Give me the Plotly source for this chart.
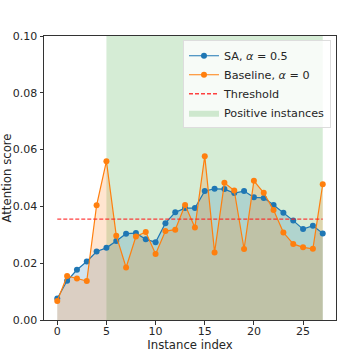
import plotly.graph_objects as go

# attention scores per instance
instance_idx = list(range(28))
sa_scores = [0.0076, 0.0138, 0.0177, 0.0206, 0.0241, 0.0254, 0.0278, 0.0304, 0.0306, 0.0284,
             0.0274, 0.0341, 0.0379, 0.0394, 0.0394, 0.0454, 0.0462, 0.0461, 0.0447, 0.0454,
             0.0432, 0.0430, 0.0405, 0.0378, 0.0350, 0.0320, 0.0332, 0.0305]
baseline_scores = [0.0067, 0.0155, 0.0146, 0.0137, 0.0404, 0.0559, 0.0297, 0.0185, 0.0294, 0.0310,
                   0.0232, 0.0313, 0.0318, 0.0405, 0.0326, 0.0577, 0.0238, 0.0483, 0.0456, 0.0250,
                   0.0490, 0.0448, 0.0387, 0.0308, 0.0268, 0.0256, 0.0251, 0.0478]
threshold = 0.0355
positive_start, positive_end = 5, 27
y_top = 0.10

BLUE = "#1f77b4"
ORANGE = "#ff7f0e"
FONT = "DejaVu Sans"

fig = go.Figure()

# positive-instance span (drawn first so the fills sit on top of it)
fig.add_trace(go.Scatter(
    x=[positive_start, positive_start, positive_end, positive_end],
    y=[0, y_top, y_top, 0],
    fill="toself", fillcolor="rgba(44,160,44,0.2)", mode="lines",
    line=dict(width=0), name="Positive instances", legendrank=4,
    hoverinfo="skip",
))

# area under each curve
fig.add_trace(go.Scatter(x=instance_idx, y=sa_scores, fill="tozeroy", mode="none",
                         fillcolor="rgba(31,119,180,0.2)", showlegend=False, hoverinfo="skip"))
fig.add_trace(go.Scatter(x=instance_idx, y=baseline_scores, fill="tozeroy", mode="none",
                         fillcolor="rgba(255,127,14,0.2)", showlegend=False, hoverinfo="skip"))

fig.add_trace(go.Scatter(
    x=instance_idx, y=sa_scores, mode="lines+markers", name="SA, <i>α</i> = 0.5",
    line=dict(color=BLUE, width=1.2), marker=dict(color=BLUE, size=6), legendrank=1,
))
fig.add_trace(go.Scatter(
    x=instance_idx, y=baseline_scores, mode="lines+markers", name="Baseline, <i>α</i> = 0",
    line=dict(color=ORANGE, width=1.2), marker=dict(color=ORANGE, size=6), legendrank=2,
))
fig.add_trace(go.Scatter(
    x=[instance_idx[0], instance_idx[-1]], y=[threshold, threshold], mode="lines",
    name="Threshold", line=dict(color="rgba(255,30,30,0.85)", width=1.3, dash="4px,2px"),
    legendrank=3,
))

fig.update_layout(
    width=359, height=360,
    margin=dict(l=44, r=23, t=36, b=40),
    plot_bgcolor="white", paper_bgcolor="white",
    font=dict(family=FONT, size=11, color="#262626"),
    showlegend=True,
    legend=dict(
        x=0.476, y=0.985, xanchor="left", yanchor="top",
        bgcolor="rgba(255,255,255,0.8)", bordercolor="#dddddd", borderwidth=1,
        font=dict(family=FONT, size=11.2), tracegroupgap=0, itemwidth=30,
    ),
)
fig.update_xaxes(
    range=[-1.35, 28.35], tickvals=[0, 5, 10, 15, 20, 25], automargin=False,
    showgrid=False, zeroline=False, showline=True, mirror=True, linecolor="#333333",
    ticks="outside", ticklen=3.5, tickcolor="#333333", tickfont=dict(size=11),
    ticklabelstandoff=-3,
    title=dict(text="Instance index", font=dict(size=11.7), standoff=2),
)
fig.update_yaxes(
    range=[0, y_top], tickvals=[0, 0.02, 0.04, 0.06, 0.08, 0.10], tickformat=".2f",
    automargin=False,
    showgrid=False, zeroline=False, showline=True, mirror=True, linecolor="#333333",
    ticks="outside", ticklen=3.5, tickcolor="#333333", tickfont=dict(size=11),
    title=dict(text="Attention score", font=dict(size=11.7), standoff=1),
)

# drop the default page margin so the figure sits at the window's corner
fig.write_html(
    "out.html",
    config={"displayModeBar": False},
    post_script="document.body.style.margin = '0';",
)
